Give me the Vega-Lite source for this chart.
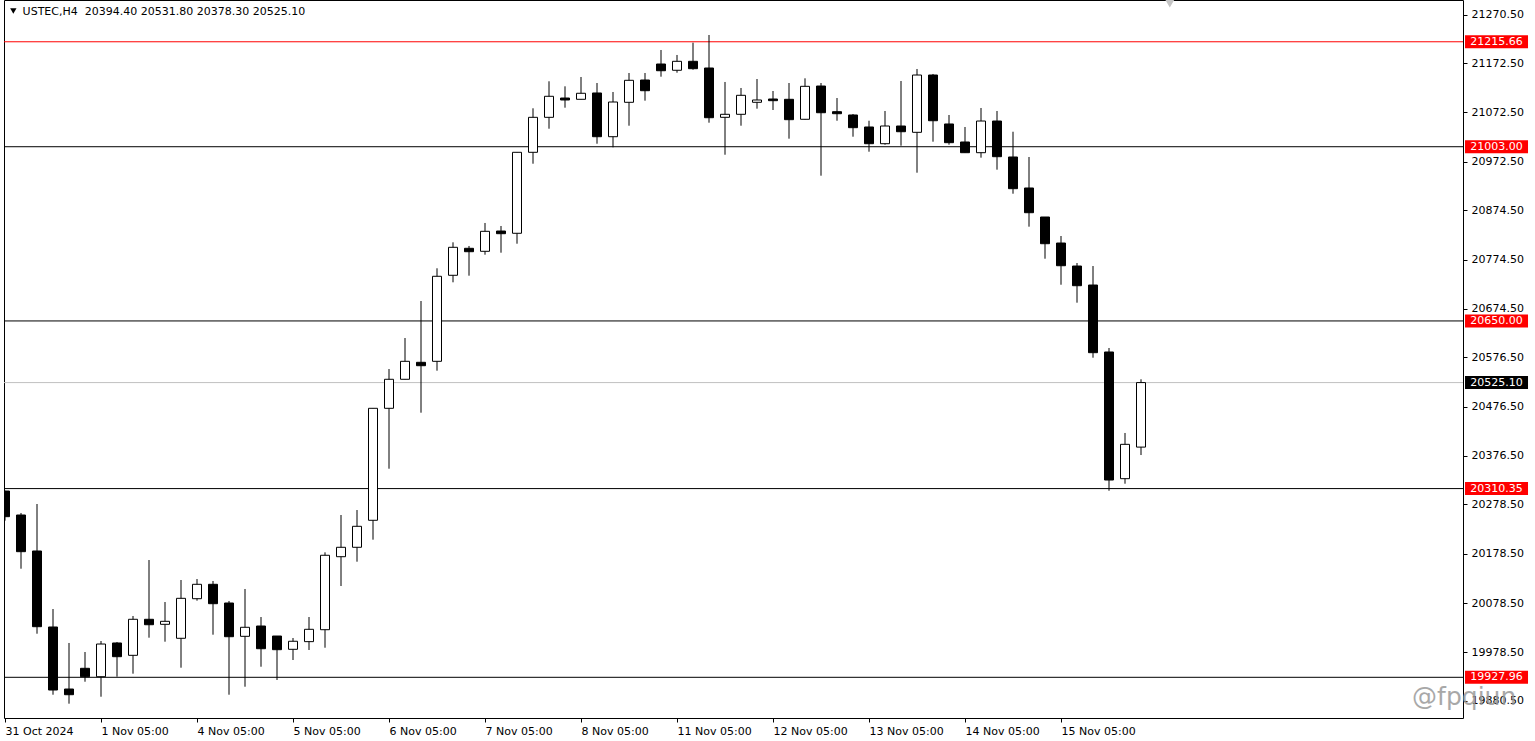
{
  "$schema": "https://vega.github.io/schema/vega-lite/v6.json",
  "width": 1459,
  "height": 718,
  "autosize": {"type": "none"},
  "padding": {"left": 4, "top": 0, "right": 72, "bottom": 23},
  "background": "white",
  "config": {
    "view": {"stroke": "black", "strokeWidth": 1},
    "font": "DejaVu Sans",
    "scale": {"continuousPadding": 0},
    "axis": {"grid": false, "domain": false, "labelFont": "DejaVu Sans", "labelFontSize": 11, "labelColor": "black", "tickColor": "black", "tickSize": 4, "title": null}
  },
  "datasets": {
    "candles": [
      {"i": 0, "o": 20305.4, "h": 20306.0, "l": 20245.3, "c": 20253.4},
      {"i": 1, "o": 20256.8, "h": 20260.9, "l": 20148.0, "c": 20182.5},
      {"i": 2, "o": 20183.9, "h": 20279.1, "l": 20016.3, "c": 20030.5},
      {"i": 3, "o": 20029.9, "h": 20066.3, "l": 19892.7, "c": 19902.2},
      {"i": 4, "o": 19904.2, "h": 19997.5, "l": 19874.5, "c": 19892.7},
      {"i": 5, "o": 19946.2, "h": 19979.2, "l": 19919.0, "c": 19929.2},
      {"i": 6, "o": 19929.2, "h": 20001.5, "l": 19888.6, "c": 19995.4},
      {"i": 7, "o": 19997.5, "h": 19999.5, "l": 19929.2, "c": 19969.7},
      {"i": 8, "o": 19972.5, "h": 20052.2, "l": 19935.3, "c": 20045.5},
      {"i": 9, "o": 20045.5, "h": 20165.6, "l": 20008.2, "c": 20034.5},
      {"i": 10, "o": 20035.3, "h": 20080.5, "l": 20000.1, "c": 20041.4},
      {"i": 11, "o": 20007.0, "h": 20125.1, "l": 19947.4, "c": 20088.0},
      {"i": 12, "o": 20087.2, "h": 20127.1, "l": 20083.2, "c": 20116.4},
      {"i": 13, "o": 20116.4, "h": 20123.1, "l": 20014.3, "c": 20077.1},
      {"i": 14, "o": 20078.5, "h": 20082.6, "l": 19892.7, "c": 20010.2},
      {"i": 15, "o": 20011.0, "h": 20106.9, "l": 19908.9, "c": 20029.3},
      {"i": 16, "o": 20031.9, "h": 20050.1, "l": 19949.4, "c": 19985.9},
      {"i": 17, "o": 20011.6, "h": 20011.6, "l": 19922.5, "c": 19983.9},
      {"i": 18, "o": 19984.7, "h": 20007.6, "l": 19963.0, "c": 20001.0},
      {"i": 19, "o": 20000.2, "h": 20050.1, "l": 19983.3, "c": 20025.2},
      {"i": 20, "o": 20024.4, "h": 20181.2, "l": 19987.9, "c": 20175.2},
      {"i": 21, "o": 20172.3, "h": 20256.8, "l": 20112.9, "c": 20191.4},
      {"i": 22, "o": 20191.4, "h": 20266.9, "l": 20162.2, "c": 20233.9},
      {"i": 23, "o": 20246.1, "h": 20473.5, "l": 20206.8, "c": 20473.0},
      {"i": 24, "o": 20473.0, "h": 20552.6, "l": 20350.6, "c": 20531.8},
      {"i": 25, "o": 20531.8, "h": 20615.4, "l": 20531.5, "c": 20568.2},
      {"i": 26, "o": 20566.2, "h": 20690.4, "l": 20464.1, "c": 20559.3},
      {"i": 27, "o": 20568.2, "h": 20756.7, "l": 20549.2, "c": 20740.5},
      {"i": 28, "o": 20742.5, "h": 20809.3, "l": 20728.3, "c": 20799.2},
      {"i": 29, "o": 20797.2, "h": 20801.9, "l": 20741.7, "c": 20790.3},
      {"i": 30, "o": 20791.1, "h": 20848.5, "l": 20784.2, "c": 20831.6},
      {"i": 31, "o": 20832.2, "h": 20842.4, "l": 20788.3, "c": 20826.8},
      {"i": 32, "o": 20827.6, "h": 20992.0, "l": 20806.5, "c": 20991.7},
      {"i": 33, "o": 20991.7, "h": 21080.9, "l": 20968.6, "c": 21062.6},
      {"i": 34, "o": 21062.6, "h": 21135.6, "l": 21039.5, "c": 21105.2},
      {"i": 35, "o": 21101.7, "h": 21125.4, "l": 21082.1, "c": 21097.7},
      {"i": 36, "o": 21099.1, "h": 21144.3, "l": 21099.0, "c": 21111.3},
      {"i": 37, "o": 21111.9, "h": 21132.1, "l": 21009.1, "c": 21023.3},
      {"i": 38, "o": 21023.3, "h": 21113.9, "l": 21001.8, "c": 21093.6},
      {"i": 39, "o": 21093.0, "h": 21152.4, "l": 21045.6, "c": 21137.6},
      {"i": 40, "o": 21138.2, "h": 21152.4, "l": 21096.3, "c": 21116.5},
      {"i": 41, "o": 21170.6, "h": 21199.0, "l": 21144.9, "c": 21157.0},
      {"i": 42, "o": 21157.9, "h": 21188.9, "l": 21153.0, "c": 21176.1},
      {"i": 43, "o": 21176.1, "h": 21213.8, "l": 21159.1, "c": 21161.1},
      {"i": 44, "o": 21162.5, "h": 21229.4, "l": 21051.7, "c": 21061.8},
      {"i": 45, "o": 21062.6, "h": 21134.2, "l": 20986.8, "c": 21068.7},
      {"i": 46, "o": 21068.7, "h": 21122.0, "l": 21045.6, "c": 21107.2},
      {"i": 47, "o": 21093.0, "h": 21140.2, "l": 21080.1, "c": 21097.7},
      {"i": 48, "o": 21099.7, "h": 21115.9, "l": 21077.4, "c": 21096.3},
      {"i": 49, "o": 21099.1, "h": 21132.1, "l": 21019.3, "c": 21057.8},
      {"i": 50, "o": 21058.6, "h": 21141.6, "l": 21058.0, "c": 21125.4},
      {"i": 51, "o": 21126.0, "h": 21132.1, "l": 20944.3, "c": 21071.9},
      {"i": 52, "o": 21074.0, "h": 21101.7, "l": 21055.7, "c": 21069.9},
      {"i": 53, "o": 21067.3, "h": 21069.3, "l": 21023.3, "c": 21041.6},
      {"i": 54, "o": 21043.0, "h": 21055.7, "l": 20992.9, "c": 21009.1},
      {"i": 55, "o": 21009.1, "h": 21075.4, "l": 21007.1, "c": 21045.0},
      {"i": 56, "o": 21045.0, "h": 21136.2, "l": 21005.1, "c": 21033.4},
      {"i": 57, "o": 21032.2, "h": 21160.5, "l": 20950.4, "c": 21148.3},
      {"i": 58, "o": 21148.3, "h": 21150.4, "l": 21013.2, "c": 21055.7},
      {"i": 59, "o": 21049.1, "h": 21067.3, "l": 21007.1, "c": 21011.2},
      {"i": 60, "o": 21012.6, "h": 21043.0, "l": 20990.9, "c": 20990.9},
      {"i": 61, "o": 20990.9, "h": 21081.5, "l": 20980.8, "c": 21055.1},
      {"i": 62, "o": 21055.1, "h": 21075.4, "l": 20956.5, "c": 20982.8},
      {"i": 63, "o": 20982.2, "h": 21033.4, "l": 20907.8, "c": 20918.0},
      {"i": 64, "o": 20919.4, "h": 20982.2, "l": 20841.0, "c": 20869.3},
      {"i": 65, "o": 20860.6, "h": 20860.6, "l": 20776.1, "c": 20806.5},
      {"i": 66, "o": 20807.9, "h": 20822.1, "l": 20723.4, "c": 20761.9},
      {"i": 67, "o": 20761.3, "h": 20767.4, "l": 20687.0, "c": 20721.4},
      {"i": 68, "o": 20722.8, "h": 20761.3, "l": 20575.5, "c": 20585.7},
      {"i": 69, "o": 20587.1, "h": 20595.2, "l": 20306.0, "c": 20327.7},
      {"i": 70, "o": 20330.4, "h": 20423.0, "l": 20320.2, "c": 20400.0},
      {"i": 71, "o": 20394.4, "h": 20531.8, "l": 20378.3, "c": 20525.1}
    ],
    "levels": [
      {"v": 21215.66, "kind": "high"},
      {"v": 21003.00, "kind": "level"},
      {"v": 20650.00, "kind": "level"},
      {"v": 20525.10, "kind": "bid"},
      {"v": 20310.35, "kind": "level"},
      {"v": 19927.96, "kind": "level"}
    ],
    "head": [{"t": "USTEC,H4\u00a0\u00a020394.40 20531.80 20378.30 20525.10"}],
    "mark": [{"w": "@fpqiun"}]
  },
  "layer": [
    {
      "data": {"name": "levels"},
      "mark": {"type": "rule", "strokeWidth": 1},
      "encoding": {
        "y": {"field": "v", "type": "quantitative", "scale": {"domain": [19845.5, 21300.3], "nice": false, "zero": false, "padding": 0},
          "axis": {"orient": "right", "values": [21270.5, 21172.5, 21072.5, 20972.5, 20874.5, 20774.5, 20674.5, 20576.5, 20476.5, 20376.5, 20278.5, 20178.5, 20078.5, 19978.5, 19880.5], "format": ".2f", "labelAlign": "left", "labelBaseline": "middle", "labelPadding": 4, "labelOverlap": false, "labelFlush": false, "tickSize": 4}},
        "stroke": {"field": "kind", "type": "nominal", "scale": {"domain": ["high", "level", "bid"], "range": ["#ff0000", "#000000", "#c0c0c0"]}, "legend": null}
      }
    },
    {
      "data": {"name": "candles"},
      "mark": {"type": "rule", "strokeWidth": 1, "color": "black", "clip": true},
      "encoding": {
        "x": {"field": "i", "type": "quantitative", "scale": {"domain": [-0.0625, 91.125], "nice": false, "zero": false, "padding": 0},
          "axis": {"values": [0, 6, 12, 18, 24, 30, 36, 42, 48, 54, 60, 66], "labelAlign": "left", "labelBaseline": "top", "labelPadding": 3, "labelFlush": false, "labelOverlap": false, "tickSize": 4,
            "labelExpr": "['31 Oct 2024','1 Nov 05:00','4 Nov 05:00','5 Nov 05:00','6 Nov 05:00','7 Nov 05:00','8 Nov 05:00','11 Nov 05:00','12 Nov 05:00','13 Nov 05:00','14 Nov 05:00','15 Nov 05:00'][round(datum.value/6)]"}},
        "y": {"field": "l", "type": "quantitative", "scale": {"domain": [19845.5, 21300.3], "nice": false, "zero": false, "padding": 0}},
        "y2": {"field": "h"}
      }
    },
    {
      "data": {"name": "candles"},
      "mark": {"type": "bar", "orient": "vertical", "size": 9, "stroke": "black", "strokeWidth": 1, "clip": true},
      "encoding": {
        "x": {"field": "i", "type": "quantitative", "scale": {"domain": [-0.0625, 91.125], "nice": false, "zero": false, "padding": 0}},
        "y": {"field": "o", "type": "quantitative", "scale": {"domain": [19845.5, 21300.3], "nice": false, "zero": false, "padding": 0}},
        "y2": {"field": "c"},
        "fill": {"condition": {"test": "datum.c >= datum.o", "value": "white"}, "value": "black"}
      }
    },
    {
      "data": {"name": "levels"},
      "mark": {"type": "point", "shape": "M-4.846,-1H4.846V1H-4.846Z", "filled": true, "size": 169, "opacity": 1, "strokeWidth": 0},
      "encoding": {
        "x": {"datum": 93.22, "type": "quantitative", "scale": {"domain": [-0.0625, 91.125], "nice": false, "zero": false, "padding": 0}},
        "y": {"field": "v", "type": "quantitative", "scale": {"domain": [19845.5, 21300.3], "nice": false, "zero": false, "padding": 0}},
        "fill": {"field": "kind", "type": "nominal", "scale": {"domain": ["high", "level", "bid"], "range": ["#ff0000", "#ff0000", "#000000"]}, "legend": null}
      }
    },
    {
      "data": {"name": "levels"},
      "mark": {"type": "text", "color": "white", "font": "DejaVu Sans", "fontSize": 11, "align": "center", "baseline": "middle"},
      "encoding": {
        "x": {"datum": 93.22, "type": "quantitative", "scale": {"domain": [-0.0625, 91.125], "nice": false, "zero": false, "padding": 0}},
        "y": {"field": "v", "type": "quantitative", "scale": {"domain": [19845.5, 21300.3], "nice": false, "zero": false, "padding": 0}},
        "text": {"field": "v", "type": "quantitative", "format": ".2f"}
      }
    },
    {
      "data": {"name": "head"},
      "mark": {"type": "text", "color": "black", "font": "DejaVu Sans", "fontSize": 11, "align": "left", "baseline": "alphabetic"},
      "encoding": {
        "x": {"datum": 1.1, "type": "quantitative", "scale": {"domain": [-0.0625, 91.125], "nice": false, "zero": false, "padding": 0}},
        "y": {"datum": 21270.0, "type": "quantitative", "scale": {"domain": [19845.5, 21300.3], "nice": false, "zero": false, "padding": 0}},
        "text": {"field": "t"}
      }
    },
    {
      "data": {"name": "head"},
      "mark": {"type": "point", "shape": "triangle-down", "filled": true, "size": 40, "color": "black", "opacity": 1},
      "encoding": {
        "x": {"datum": 0.52, "type": "quantitative", "scale": {"domain": [-0.0625, 91.125], "nice": false, "zero": false, "padding": 0}},
        "y": {"datum": 21278.0, "type": "quantitative", "scale": {"domain": [19845.5, 21300.3], "nice": false, "zero": false, "padding": 0}}
      }
    },
    {
      "data": {"name": "head"},
      "mark": {"type": "point", "shape": "triangle-down", "filled": true, "size": 120, "color": "#c4c4c4", "opacity": 1},
      "encoding": {
        "x": {"datum": 72.8, "type": "quantitative", "scale": {"domain": [-0.0625, 91.125], "nice": false, "zero": false, "padding": 0}},
        "y": {"datum": 21294.5, "type": "quantitative", "scale": {"domain": [19845.5, 21300.3], "nice": false, "zero": false, "padding": 0}}
      }
    },
    {
      "data": {"name": "mark"},
      "mark": {"type": "text", "color": "#9a9a9a", "opacity": 0.85, "font": "DejaVu Sans", "fontSize": 25, "align": "center", "baseline": "middle"},
      "encoding": {
        "x": {"datum": 91.2, "type": "quantitative", "scale": {"domain": [-0.0625, 91.125], "nice": false, "zero": false, "padding": 0}},
        "y": {"datum": 19888.0, "type": "quantitative", "scale": {"domain": [19845.5, 21300.3], "nice": false, "zero": false, "padding": 0}},
        "text": {"field": "w"}
      }
    }
  ]
}
